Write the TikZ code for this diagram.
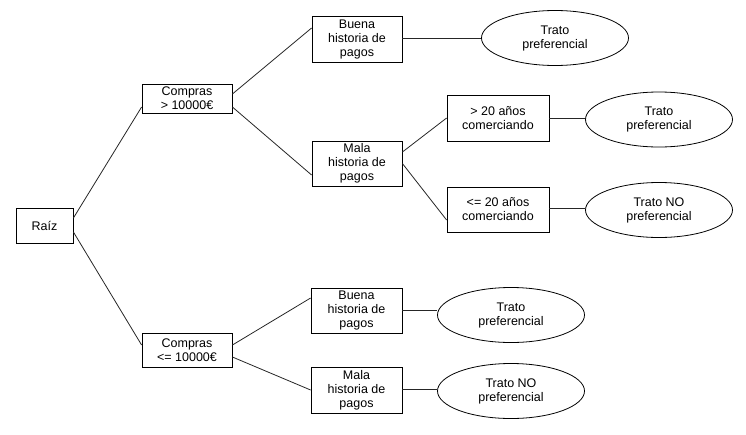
\documentclass[tikz,border=0pt]{standalone}
\usepackage{fontspec}
\setmainfont{Liberation Sans}
\usetikzlibrary{shapes.geometric}
\begin{document}
\begin{tikzpicture}[x=1pt,y=-1pt,
  every node/.style={font=\fontsize{12.5}{14}\selectfont, align=center, inner sep=0pt},
  box/.style={draw=black, line width=0.8pt, rectangle},
  leaf/.style={draw=black, line width=0.8pt, ellipse, minimum width=147pt, minimum height=55pt},
  conn/.style={draw=black!85, line width=0.8pt}]
\useasboundingbox (0,0) rectangle (746,434);
% internal nodes
\node[box, minimum width=57pt, minimum height=35pt] (raiz) at (44.5,225.5) {Raíz};
\node[box, minimum width=90pt, minimum height=29pt] (c1) at (187,98.5) {Compras\\> 10000€};
\node[box, minimum width=90pt, minimum height=34pt] (c2) at (187,350) {Compras\\<= 10000€};
\node[box, minimum width=90pt, minimum height=46pt] (b1) at (357,39) {Buena\\historia de\\pagos};
\node[box, minimum width=90pt, minimum height=45pt] (m1) at (357,163.5) {Mala\\historia de\\pagos};
\node[box, minimum width=102pt, minimum height=46pt] (g20) at (498,118) {> 20 años\\comerciando};
\node[box, minimum width=102pt, minimum height=45pt] (l20) at (498,209.5) {<= 20 años\\comerciando};
\node[box, minimum width=91pt, minimum height=45pt] (b2) at (356.5,310.5) {Buena\\historia de\\pagos};
\node[box, minimum width=91pt, minimum height=46pt] (m2) at (356.5,390) {Mala\\historia de\\pagos};
% leaves
\node[leaf] (e1) at (555,38) {Trato\\preferencial};
\node[leaf] (e2) at (659,119.5) {Trato\\preferencial};
\node[leaf] (e3) at (659,210) {Trato NO\\preferencial};
\node[leaf] (e4) at (511,315) {Trato\\preferencial};
\node[leaf] (e5) at (511,391) {Trato NO\\preferencial};
% connectors
\draw[conn] ([yshift=7.5pt]raiz.east) -- ([yshift=-8.5pt]c1.west);
\draw[conn] ([yshift=-6.5pt]raiz.east) -- ([yshift=5pt]c2.west);
\draw[conn] ([yshift=4.5pt]c1.east) -- ([yshift=11pt]b1.west);
\draw[conn] ([yshift=-8.5pt]c1.east) -- ([yshift=-11.5pt]m1.west);
\draw[conn] ([yshift=1pt]b1.east) -- ([yshift=1pt]b1.east -| e1.west);
\draw[conn] ([yshift=11.5pt]m1.east) -- (g20.west);
\draw[conn] (m1.east) -- ([yshift=-10.5pt]l20.west);
\draw[conn] (g20.east) -- (g20.east -| e2.west);
\draw[conn] ([yshift=1.5pt]l20.east) -- ([yshift=1.5pt]l20.east -| e3.west);
\draw[conn] ([yshift=5pt]c2.east) -- ([yshift=12.5pt]b2.west);
\draw[conn] ([yshift=-7pt]c2.east) -- (m2.west);
\draw[conn] (b2.east) -- (b2.east -| e4.west);
\draw[conn] ([yshift=1pt]m2.east) -- ([yshift=1pt]m2.east -| e5.west);
\end{tikzpicture}
\end{document}
